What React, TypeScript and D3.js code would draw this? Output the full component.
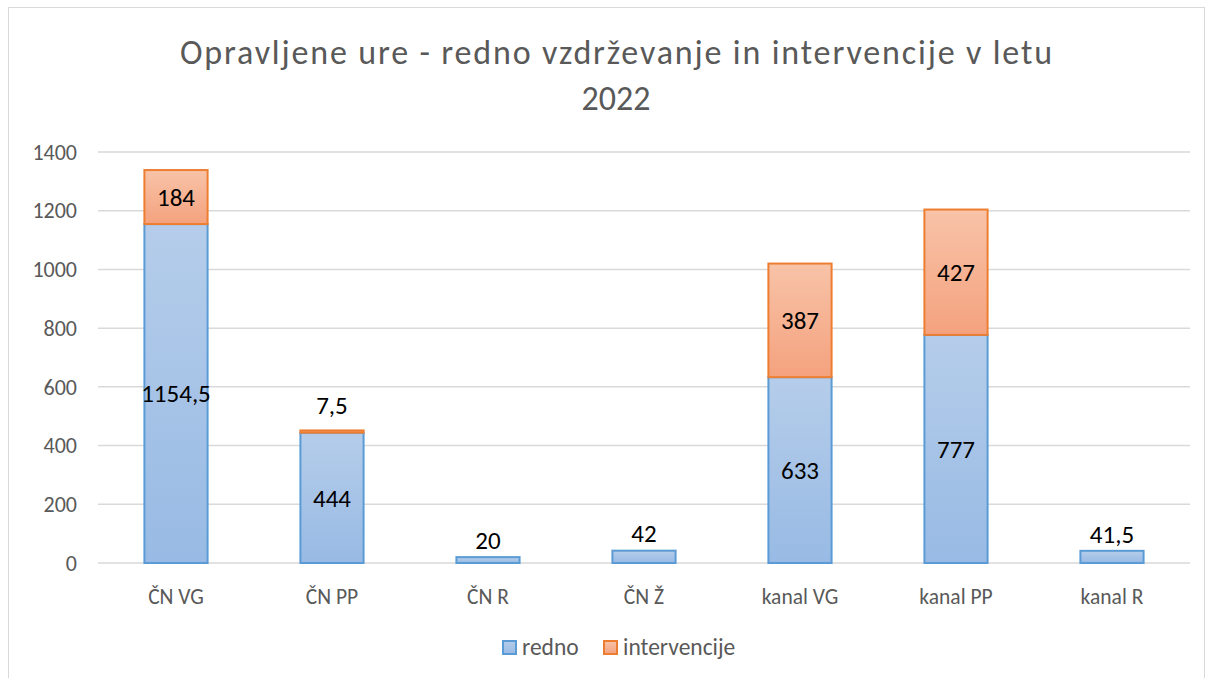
import React from "react";
import * as d3 from "d3";

const categories = ["ČN VG", "ČN PP", "ČN R", "ČN Ž", "kanal VG", "kanal PP", "kanal R"];
const redno = [1154.5, 444, 20, 42, 633, 777, 41.5];
const intervencije: (number | null)[] = [184, 7.5, null, null, 387, 427, null];
const yTicks = [0, 200, 400, 600, 800, 1000, 1200, 1400];
const seriesNames = ["redno", "intervencije"];
const titleLines = ["Opravljene ure - redno vzdrževanje in intervencije v letu", "2022"];

const W = 1210;
const H = 678;
const font = "Calibri, Carlito, 'Liberation Sans', Arial, sans-serif";

export default function App() {
  const x = d3.scaleBand<string>().domain(categories).range([98, 1190]).paddingInner(0.595).paddingOuter(0.2975);
  const y = d3.scaleLinear().domain([0, 1400]).range([563, 152]);
  const bw = x.bandwidth();

  const fmt = (v: number) => String(v).replace(".", ",");

  return (
    <svg width={W} height={H} style={{ position: "absolute", left: 0, top: 0, background: "#fff" }}>
      <defs>
        <linearGradient id="gBlue" x1="0" y1="0" x2="0" y2="1">
          <stop offset="0" stopColor="#b5cdea" />
          <stop offset="1" stopColor="#98bae4" />
        </linearGradient>
        <linearGradient id="gOrange" x1="0" y1="0" x2="0" y2="1">
          <stop offset="0" stopColor="#f8c3a8" />
          <stop offset="1" stopColor="#f4a27e" />
        </linearGradient>
      </defs>
      <rect x={8.5} y={7.5} width={1196} height={H} fill="#fff" stroke="#d9d9d9" strokeWidth={1} />
      {titleLines.map((t, i) => (
        <text
          key={i}
          x={616}
          y={52 + i * 46}
          dy="0.35em"
          textAnchor="middle"
          fontFamily={font}
          fontSize={34}
          fill="#595959"
          {...(i === 0 ? { textLength: 872, lengthAdjust: "spacing" } : {})}
        >
          {t}
        </text>
      ))}
      {yTicks.map((t) => (
        <g key={t}>
          <line x1={98} x2={1190} y1={y(t)} y2={y(t)} stroke="#d9d9d9" strokeWidth={1.5} />
          <text x={77} y={y(t)} dy="0.35em" textAnchor="end" fontFamily={font} fontSize={22} fill="#595959">
            {t}
          </text>
        </g>
      ))}
      {categories.map((c, i) => {
        const x0 = x(c)!;
        const r = redno[i];
        const iv = intervencije[i];
        const topR = y(r);
        const total = r + (iv ?? 0);
        return (
          <g key={c}>
            <rect x={x0} y={topR} width={bw} height={y(0) - topR} fill="url(#gBlue)" stroke="#5b9bd5" strokeWidth={2} />
            {iv != null && (
              <rect x={x0} y={y(total)} width={bw} height={topR - y(total)} fill="url(#gOrange)" stroke="#ed7d31" strokeWidth={2} />
            )}
            {r > 100 ? (
              <text x={x0 + bw / 2} y={y(r / 2)} dy="0.35em" textAnchor="middle" fontFamily={font} fontSize={25} fill="#000">
                {fmt(r)}
              </text>
            ) : (
              <text x={x0 + bw / 2} y={topR - 17} dy="0.35em" textAnchor="middle" fontFamily={font} fontSize={25} fill="#000">
                {fmt(r)}
              </text>
            )}
            {iv != null &&
              (iv > 50 ? (
                <text x={x0 + bw / 2} y={y(r + iv / 2)} dy="0.35em" textAnchor="middle" fontFamily={font} fontSize={25} fill="#000">
                  {fmt(iv)}
                </text>
              ) : (
                <text x={x0 + bw / 2} y={y(total) - 25} dy="0.35em" textAnchor="middle" fontFamily={font} fontSize={25} fill="#000">
                  {fmt(iv)}
                </text>
              ))}
            <text x={x0 + bw / 2} y={596} dy="0.35em" textAnchor="middle" fontFamily={font} fontSize={21.5} fill="#595959">
              {c}
            </text>
          </g>
        );
      })}
      {seriesNames.map((s, i) => {
        const lx = i === 0 ? 503 : 604;
        return (
          <g key={s}>
            <rect
              x={lx}
              y={641}
              width={13}
              height={13}
              fill={i === 0 ? "url(#gBlue)" : "url(#gOrange)"}
              stroke={i === 0 ? "#5b9bd5" : "#ed7d31"}
              strokeWidth={2}
            />
            <text x={lx + 19} y={647} dy="0.35em" fontFamily={font} fontSize={23.5} fill="#595959">
              {s}
            </text>
          </g>
        );
      })}
    </svg>
  );
}
